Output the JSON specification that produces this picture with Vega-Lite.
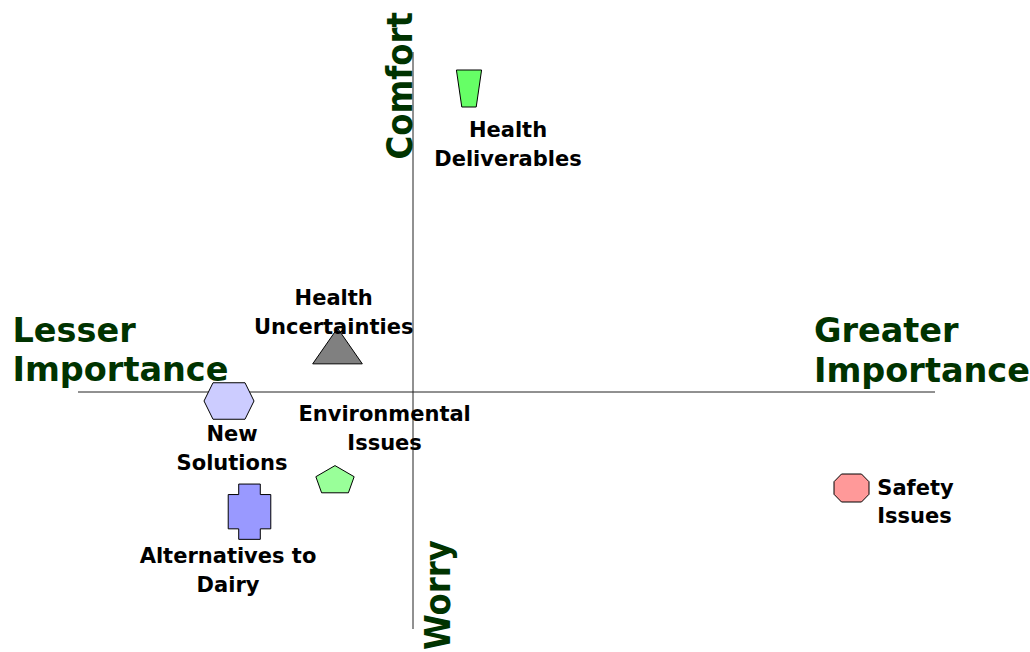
{
  "$schema": "https://vega.github.io/schema/vega-lite/v6.json",
  "width": 1030,
  "height": 652,
  "autosize": {"type": "fit", "contains": "padding"},
  "padding": 0,
  "background": "white",
  "config": {"view": {"stroke": null}},
  "datasets": {
    "items": [
      {"name": "Health Deliverables", "x": 0.56, "y": 3.035, "label": "Health\nDeliverables", "lx": 0.95, "ly": 2.553},
      {"name": "Health Uncertainties", "x": -0.755, "y": 0.46, "label": "Health\nUncertainties", "lx": -0.793, "ly": 0.87},
      {"name": "New Solutions", "x": -1.84, "y": -0.09, "label": "New\nSolutions", "lx": -1.81, "ly": -0.49},
      {"name": "Environmental Issues", "x": -0.78, "y": -0.872, "label": "Environmental\nIssues", "lx": -0.284, "ly": -0.29},
      {"name": "Alternatives to Dairy", "x": -1.635, "y": -1.197, "label": "Alternatives to\nDairy", "lx": -1.85, "ly": -1.707},
      {"name": "Safety Issues", "x": 4.385, "y": -0.96, "label": "Safety\nIssues", "lx": 4.643, "ly": -1.03}
    ],
    "titles": [
      {"text": "Lesser\nImportance", "x": -4.005, "y": 0.503},
      {"text": "Greater\nImportance", "x": 4.01, "y": 0.497}
    ],
    "vtitles": [
      {"text": "Comfort", "x": -0.015, "y": 3.062},
      {"text": "Worry", "x": 0.37, "y": -2.03}
    ],
    "axes": [
      {"x": -3.35, "x2": 5.22, "y": 0, "y2": 0},
      {"x": 0, "x2": 0, "y": 3.40, "y2": -2.37}
    ]
  },
  "layer": [
    {
      "data": {"name": "axes"},
      "mark": {"type": "rule", "color": "#222222", "strokeWidth": 1},
      "encoding": {
        "x": {"field": "x", "type": "quantitative", "scale": {"domain": [-4.13, 6.17], "nice": false, "zero": false}, "axis": null},
        "x2": {"field": "x2"},
        "y": {"field": "y", "type": "quantitative", "scale": {"domain": [-2.60, 3.92], "nice": false, "zero": false}, "axis": null},
        "y2": {"field": "y2"}
      }
    },
    {
      "data": {"name": "items"},
      "mark": {"type": "point", "filled": true, "opacity": 1, "stroke": "#000000", "strokeWidth": 1},
      "encoding": {
        "x": {"field": "x", "type": "quantitative", "scale": {"domain": [-4.13, 6.17], "nice": false, "zero": false}, "axis": null},
        "y": {"field": "y", "type": "quantitative", "scale": {"domain": [-2.60, 3.92], "nice": false, "zero": false}, "axis": null},
        "fill": {
          "field": "name", "type": "nominal", "legend": null,
          "scale": {
            "domain": ["Health Deliverables", "Health Uncertainties", "New Solutions", "Environmental Issues", "Alternatives to Dairy", "Safety Issues"],
            "range": ["#66FF66", "#808080", "#CCCCFF", "#99FF99", "#9999FF", "#FF9999"]
          }
        },
        "shape": {
          "field": "name", "type": "nominal", "legend": null,
          "scale": {
            "domain": ["Health Deliverables", "Health Uncertainties", "New Solutions", "Environmental Issues", "Alternatives to Dairy", "Safety Issues"],
            "range": [
              "M-0.68,-1L0.68,-1L0.39,1L-0.39,1Z",
              "M0,-0.72L1,0.72L-1,0.72Z",
              "M-1,0L-0.64,-0.73L0.64,-0.73L1,0L0.64,0.73L-0.64,0.73Z",
              "M0,-0.71L1,-0.13L0.7,0.71L-0.7,0.71L-1,-0.13Z",
              "M-0.39,-1L0.39,-1L0.39,-0.62L0.77,-0.62L0.77,0.62L0.39,0.62L0.39,1L-0.39,1L-0.39,0.62L-0.77,0.62L-0.77,-0.62L-0.39,-0.62Z",
              "M-0.57,-0.8L0.57,-0.8L1,-0.36L1,0.36L0.57,0.8L-0.57,0.8L-1,0.36L-1,-0.36Z"
            ]
          }
        },
        "size": {
          "field": "name", "type": "nominal", "legend": null,
          "scale": {
            "type": "ordinal",
            "domain": ["Health Deliverables", "Health Uncertainties", "New Solutions", "Environmental Issues", "Alternatives to Dairy", "Safety Issues"],
            "range": [1369, 2460, 2500, 1467, 3058, 1225]
          }
        }
      }
    },
    {
      "data": {"name": "items"},
      "transform": [{"filter": "datum.name !== 'Safety Issues'"}],
      "mark": {"type": "text", "align": "center", "baseline": "alphabetic", "font": "DejaVu Sans", "fontWeight": "bold", "fontSize": 21, "lineBreak": "\n", "lineHeight": 29, "color": "#000000"},
      "encoding": {
        "x": {"field": "lx", "type": "quantitative", "scale": {"domain": [-4.13, 6.17], "nice": false, "zero": false}, "axis": null},
        "y": {"field": "ly", "type": "quantitative", "scale": {"domain": [-2.60, 3.92], "nice": false, "zero": false}, "axis": null},
        "text": {"field": "label"}
      }
    },
    {
      "data": {"name": "items"},
      "transform": [{"filter": "datum.name === 'Safety Issues'"}],
      "mark": {"type": "text", "align": "left", "baseline": "alphabetic", "font": "DejaVu Sans", "fontWeight": "bold", "fontSize": 21, "lineBreak": "\n", "lineHeight": 28, "color": "#000000"},
      "encoding": {
        "x": {"field": "lx", "type": "quantitative", "scale": {"domain": [-4.13, 6.17], "nice": false, "zero": false}, "axis": null},
        "y": {"field": "ly", "type": "quantitative", "scale": {"domain": [-2.60, 3.92], "nice": false, "zero": false}, "axis": null},
        "text": {"field": "label"}
      }
    },
    {
      "data": {"name": "titles"},
      "mark": {"type": "text", "align": "left", "baseline": "alphabetic", "font": "DejaVu Sans", "fontWeight": "bold", "fontSize": 33.5, "lineBreak": "\n", "lineHeight": 39.5, "color": "#003300"},
      "encoding": {
        "x": {"field": "x", "type": "quantitative", "scale": {"domain": [-4.13, 6.17], "nice": false, "zero": false}, "axis": null},
        "y": {"field": "y", "type": "quantitative", "scale": {"domain": [-2.60, 3.92], "nice": false, "zero": false}, "axis": null},
        "text": {"field": "text"}
      }
    },
    {
      "data": {"name": "vtitles"},
      "mark": {"type": "text", "align": "center", "baseline": "alphabetic", "angle": 270, "font": "DejaVu Sans Condensed, DejaVu Sans", "fontWeight": "bold", "fontSize": 36, "color": "#003300"},
      "encoding": {
        "x": {"field": "x", "type": "quantitative", "scale": {"domain": [-4.13, 6.17], "nice": false, "zero": false}, "axis": null},
        "y": {"field": "y", "type": "quantitative", "scale": {"domain": [-2.60, 3.92], "nice": false, "zero": false}, "axis": null},
        "text": {"field": "text"}
      }
    }
  ]
}
